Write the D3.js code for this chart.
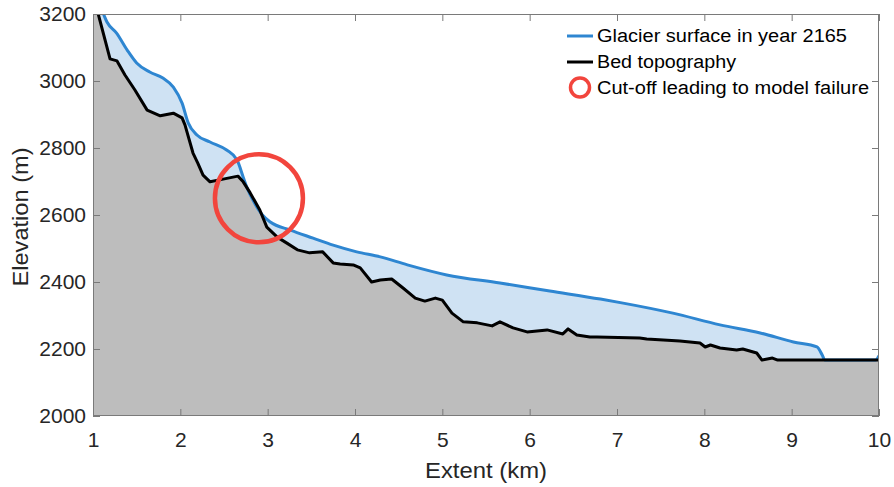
<!DOCTYPE html>
<html>
<head>
<meta charset="utf-8">
<script src="https://cdn.jsdelivr.net/npm/d3@7"></script>
<style>
  html, body { margin: 0; padding: 0; background: #fff; }
  svg { display: block; font-family: "Liberation Sans", Arial, Helvetica, sans-serif; }
</style>
</head>
<body>
<svg id="chart" width="894" height="487"></svg>
<script>
// ---- data ----
const bedKm = [1.0, 1.06, 1.195, 1.275, 1.366, 1.48, 1.62, 1.77, 1.92, 2.02, 2.053, 2.145, 2.20, 2.26, 2.34, 2.49, 2.66, 2.72, 2.80, 2.91, 2.99, 3.11, 3.22, 3.34, 3.48, 3.63, 3.75, 3.83, 3.98, 4.06, 4.19, 4.29, 4.42, 4.55, 4.69, 4.80, 4.92, 5.0, 5.11, 5.24, 5.40, 5.57, 5.66, 5.81, 5.97, 6.20, 6.38, 6.44, 6.54, 6.69, 6.77, 7.26, 7.34, 7.72, 7.95, 8.01, 8.07, 8.18, 8.37, 8.44, 8.60, 8.66, 8.78, 8.84, 10.0];
const bedElev = [3255, 3200, 3066, 3060, 3018, 2973, 2913, 2896, 2904, 2890, 2869, 2785, 2755, 2719, 2699, 2707, 2716, 2699, 2666, 2615, 2564, 2534, 2516, 2496, 2487, 2490, 2457, 2454, 2451, 2442, 2400, 2406, 2409, 2382, 2352, 2343, 2352, 2346, 2307, 2281, 2278, 2269, 2281, 2263, 2251, 2257, 2245, 2260, 2242, 2236, 2236, 2233, 2230, 2224, 2218, 2206, 2212, 2203, 2197, 2200, 2188, 2167, 2173, 2167, 2167];

const surfKm = [1.0, 1.115, 1.16, 1.27, 1.39, 1.50, 1.65, 1.80, 1.92, 2.02, 2.09, 2.19, 2.34, 2.53, 2.65, 2.72, 2.76, 2.83, 2.94, 3.03, 3.26, 3.52, 3.75, 4.02, 4.29, 4.60, 5.05, 5.66, 6.23, 6.81, 7.07, 7.64, 8.18, 8.64, 9.02, 9.29, 9.35, 9.38, 9.96, 10.0];
const surfElev = [3265, 3203, 3176, 3143, 3093, 3054, 3027, 3009, 2982, 2934, 2875, 2839, 2818, 2794, 2764, 2713, 2684, 2645, 2600, 2579, 2555, 2531, 2510, 2490, 2475, 2451, 2421, 2397, 2373, 2349, 2337, 2307, 2272, 2248, 2221, 2206, 2182, 2167, 2167, 2180];

const cutoffKm = [2.9];
const cutoffElev = [2650];

const xTicks = [1, 2, 3, 4, 5, 6, 7, 8, 9, 10];
const yTicks = [2000, 2200, 2400, 2600, 2800, 3000, 3200];
const legendLabels = ["Glacier surface in year 2165", "Bed topography", "Cut-off leading to model failure"];

// ---- layout ----
const L = 93, R = 879, T = 14, B = 416;
const svg = d3.select("#chart");
const x = d3.scaleLinear().domain([1, 10]).range([L, R]);
const y = d3.scaleLinear().domain([2000, 3200]).range([B, T]);

const bed = bedKm.map((k, i) => [k, bedElev[i]]);
const surf = surfKm.map((k, i) => [k, surfElev[i]]);

svg.append("defs").append("clipPath").attr("id", "clip")
  .append("rect").attr("x", L).attr("y", T).attr("width", R - L).attr("height", B - T);

const g = svg.append("g").attr("clip-path", "url(#clip)");

const areaS = d3.area().x(d => x(d[0])).y0(y(2000)).y1(d => y(d[1])).curve(d3.curveMonotoneX);
const areaB = d3.area().x(d => x(d[0])).y0(y(2000)).y1(d => y(d[1]));
const lineS = d3.line().x(d => x(d[0])).y(d => y(d[1])).curve(d3.curveMonotoneX);
const lineB = d3.line().x(d => x(d[0])).y(d => y(d[1]));

g.append("path").datum(surf).attr("d", areaS).attr("fill", "#cfe2f3");
g.append("path").datum(bed).attr("d", areaB).attr("fill", "#bdbdbd");
g.append("path").datum(surf).attr("d", lineS).attr("fill", "none")
  .attr("stroke", "#2e86d1").attr("stroke-width", 3).attr("stroke-linejoin", "round");
g.append("path").datum(bed).attr("d", lineB).attr("fill", "none")
  .attr("stroke", "#000").attr("stroke-width", 3).attr("stroke-linejoin", "round");

// axes box + inward ticks
const axisColor = "#7a7a7a";
const tickLen = 7;
const axG = svg.append("g");
axG.append("rect").attr("x", L + 0.5).attr("y", T + 0.5).attr("width", R - L - 1).attr("height", B - T - 1)
  .attr("fill", "none").attr("stroke", axisColor).attr("stroke-width", 1);

const xAxisB = d3.axisBottom(x).tickValues(xTicks).tickSizeInner(-tickLen).tickSizeOuter(0).tickPadding(16).tickFormat(d3.format("d"));
const xAxisT = d3.axisTop(x).tickValues(xTicks).tickSizeInner(-tickLen).tickSizeOuter(0).tickFormat("");
const yAxisL = d3.axisLeft(y).tickValues(yTicks).tickSizeInner(-tickLen).tickSizeOuter(0).tickPadding(7).tickFormat(d3.format("d"));
const yAxisR = d3.axisRight(y).tickValues(yTicks).tickSizeInner(-tickLen).tickSizeOuter(0).tickFormat("");

function styleAxis(sel) {
  sel.select(".domain").remove();
  sel.selectAll(".tick line").attr("stroke", axisColor);
  sel.selectAll(".tick text").attr("fill", "#262626").attr("font-size", 21)
    .attr("font-family", "'Liberation Sans', Arial, sans-serif");
}
svg.append("g").attr("transform", `translate(0,${B})`).call(xAxisB).call(styleAxis);
svg.append("g").attr("transform", `translate(0,${T})`).call(xAxisT).call(styleAxis);
svg.append("g").attr("transform", `translate(${L},0)`).call(yAxisL).call(styleAxis);
svg.append("g").attr("transform", `translate(${R},0)`).call(yAxisR).call(styleAxis);

// axis titles
svg.append("text").attr("x", (L + R) / 2).attr("y", 478).attr("text-anchor", "middle")
  .attr("font-size", 22).attr("fill", "#262626")
  .attr("textLength", 122).attr("lengthAdjust", "spacingAndGlyphs").text("Extent (km)");
svg.append("text").attr("transform", `translate(28,217) rotate(-90)`).attr("text-anchor", "middle")
  .attr("font-size", 22).attr("fill", "#262626")
  .attr("textLength", 139).attr("lengthAdjust", "spacingAndGlyphs").text("Elevation (m)");

// cut-off circle
svg.append("circle").attr("cx", x(cutoffKm[0])).attr("cy", y(cutoffElev[0])).attr("r", 44)
  .attr("fill", "none").attr("stroke", "#f2453d").attr("stroke-width", 4.5);

// legend
const lg = svg.append("g");
const rows = [36, 62, 87.5];
const legendWidths = [250, 139, 272];
lg.append("line").attr("x1", 567).attr("x2", 593).attr("y1", rows[0]).attr("y2", rows[0])
  .attr("stroke", "#2e86d1").attr("stroke-width", 3);
lg.append("line").attr("x1", 567).attr("x2", 593).attr("y1", rows[1]).attr("y2", rows[1])
  .attr("stroke", "#000").attr("stroke-width", 3);
lg.append("circle").attr("cx", 580).attr("cy", rows[2]).attr("r", 9.5)
  .attr("fill", "none").attr("stroke", "#f2453d").attr("stroke-width", 3.5);
legendLabels.forEach((t, i) => {
  lg.append("text").attr("x", 597).attr("y", rows[i]).attr("dy", "0.35em")
    .attr("font-size", 18).attr("fill", "#000")
    .attr("textLength", legendWidths[i]).attr("lengthAdjust", "spacingAndGlyphs").text(t);
});
</script>
</body>
</html>
